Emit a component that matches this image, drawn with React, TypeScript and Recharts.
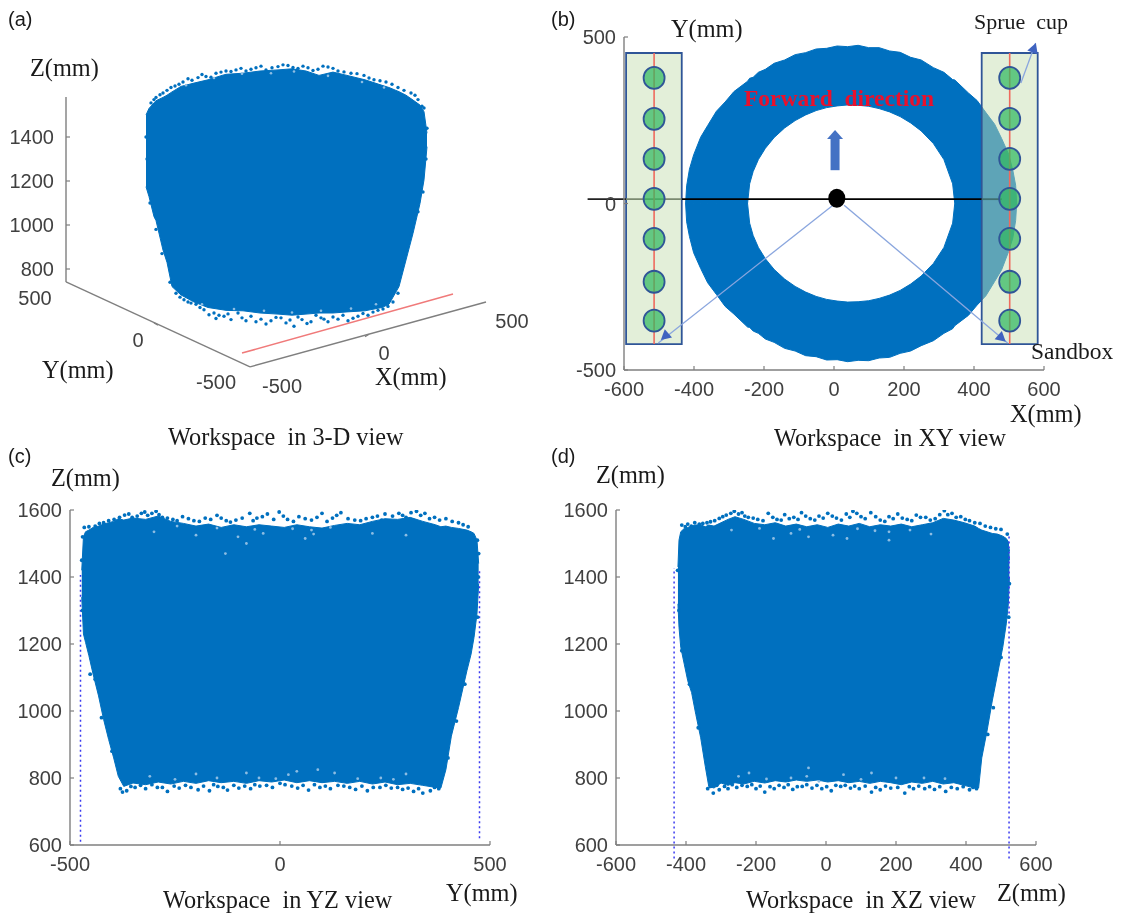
import React from "react";
import { ComposedChart, Area, Scatter, XAxis, YAxis, ReferenceLine, ReferenceArea } from "recharts";

const BLUE = "#0070BF";
const GREY = "#7f7f7f";
const TICK = "#404040";

// ---------- panel (a): projected view, u = horizontal view coordinate, z = height ----------
const cloudA_u = [80, 83, 88, 90, 97, 101, 106, 115, 128, 142, 156, 160, 177, 194, 212, 226, 240, 253, 267, 281, 299, 316, 323, 333, 340, 347, 354, 358, 361];
const cloudA_low = [1174, 1129, 1038, 1020, 886, 830, 720, 682, 650, 625, 615, 612, 610, 600, 595, 590, 595, 600, 600, 605, 610, 625, 640, 720, 841, 962, 1098, 1205, 1356];
const cloudA_high = [1500, 1530, 1555, 1565, 1580, 1590, 1605, 1630, 1645, 1660, 1680, 1685, 1690, 1700, 1705, 1710, 1700, 1680, 1695, 1680, 1660, 1635, 1625, 1606, 1590, 1568, 1545, 1515, 1417];
const dotsA: number[][] = [[85,1555],[90,1580],[97,1600],[105,1625],[113,1640],[122,1665],[132,1670],[140,1675],[150,1690],[160,1700],[170,1705],[180,1700],[190,1715],[200,1705],[212,1720],[222,1725],[232,1712],[242,1715],[252,1708],[262,1718],[272,1700],[285,1690],[298,1680],[308,1660],[320,1650],[332,1625],[345,1600],[352,1570],[356,1540],
  [88,1570],[94,1592],[101,1612],[109,1632],[117,1650],[126,1658],[136,1684],[145,1672],[155,1695],[165,1698],[175,1712],[185,1708],[195,1722],[206,1715],[217,1728],[227,1716],[237,1722],[247,1702],[257,1722],[267,1712],[278,1696],[291,1688],[303,1668],[314,1656],[326,1640],[338,1612],[349,1590],[358,1532],
  [110,690],[118,660],[125,645],[130,640],[138,615],[148,600],[150,575],[158,585],[165,570],[172,600],[180,565],[190,560],[200,550],[210,580],[220,555],[228,540],[236,570],[245,560],[255,578],[262,560],[272,572],[282,565],[292,585],[302,590],[312,612],[322,630],
  [114,672],[122,650],[134,625],[143,592],[153,590],[162,596],[176,578],[185,585],[195,572],[205,565],[215,578],[224,568],[232,582],[241,552],[250,590],[258,572],[267,582],[277,590],[287,576],[297,598],[307,604],[317,618],[327,650],[332,690],
  [81,1300],[80,1400],[84,1100],[90,980],[96,870],[104,740],[360,1300],[357,1150],[352,1060],[345,960],[338,850],[361,1440]];
const specksA: number[][] = [[120,1635],[148,1668],[176,1688],[205,1690],[228,1698],[262,1678],[296,1650],[318,1625],[136,640],[168,618],[198,610],[226,602],[255,610],[285,620],[310,640]];
const zTicksA = [800, 1000, 1200, 1400];

// ---------- panel (b): ring of reachable points ----------
const ringX = [-424, -421, -413, -401, -381, -361, -336, -311, -286, -247, -241, -231, -216, -196, -171, -141, -111, -81, -51, -21, 9, 39, 69, 99, 129, 159, 189, 219, 249, 284, 314, 339, 345, 384, 409, 434, 459, 479, 499, 511, 519, 522];
const ringOuterTop = [0, 53, 103, 146, 199, 234, 277, 305, 336, 367, 376, 379, 394, 403, 421, 431, 447, 453, 464, 466, 473, 471, 475, 468, 468, 458, 454, 439, 431, 408, 394, 372, 371, 332, 309, 273, 238, 195, 148, 99, 55, 0];
const ringOuterBottom = [0, 55, 99, 148, 195, 238, 273, 309, 332, 371, 372, 383, 390, 407, 417, 435, 443, 457, 460, 470, 469, 475, 471, 472, 464, 462, 450, 443, 427, 412, 390, 376, 367, 336, 305, 277, 234, 199, 144, 103, 51, 0];
const ringInner = [0, 0, 0, 0, 0, 0, 0, 0, 0, 0, 59, 96, 132, 166, 198, 227, 249, 266, 279, 288, 293, 296, 295, 292, 285, 275, 261, 242, 218, 180, 132, 59, 0, 0, 0, 0, 0, 0, 0, 0, 0, 0];
const sandboxLeftX = [-594, -435];
const sandboxRightX = [422, 582];
const sandboxY = [-422, 452];
const holeY = [377, 254, 134, 14, -106, -235, -352];
const holeLeftX = -514;
const holeRightX = 502;
const xTicksB = [-600, -400, -200, 0, 200, 400, 600];
const yTicksB = [-500, 0, 500];

// ---------- panel (c) ----------
const cloudC_x = [-472, -468, -463, -455, -445, -432, -420, -408, -396, -385, -372, -350, -320, -290, -260, -230, -200, -170, -140, -110, -80, -50, -20, 10, 40, 70, 100, 130, 160, 190, 220, 250, 280, 310, 340, 370, 383, 395, 408, 425, 445, 455, 462, 469, 473];
const cloudC_low = [1340, 1230, 1205, 1165, 1110, 1045, 975, 915, 860, 805, 775, 785, 780, 788, 782, 790, 784, 792, 786, 790, 784, 792, 788, 794, 786, 792, 786, 790, 784, 790, 782, 788, 780, 784, 778, 772, 770, 825, 925, 1010, 1120, 1170, 1220, 1290, 1380];
const cloudC_high = [1420, 1520, 1535, 1540, 1548, 1552, 1558, 1562, 1566, 1574, 1570, 1576, 1572, 1582, 1566, 1560, 1552, 1558, 1548, 1556, 1550, 1556, 1552, 1548, 1556, 1550, 1546, 1554, 1560, 1556, 1566, 1574, 1572, 1578, 1566, 1556, 1550, 1552, 1548, 1545, 1540, 1535, 1530, 1510, 1440];
const dotsC: number[][] = [[-466,1548],[-470,1520],[-440,1552],[-420,1562],[-395,1572],[-370,1585],[-352,1578],[-330,1590],[-315,1584],[-295,1596],[-280,1578],[-255,1572],[-232,1580],[-205,1568],[-178,1576],[-150,1584],[-128,1568],[-105,1570],[-72,1590],[-55,1576],[-30,1588],[-2,1594],[18,1572],[45,1580],[75,1570],[100,1590],[125,1576],[145,1592],[178,1570],[205,1574],[232,1582],[250,1588],[283,1590],[300,1578],[325,1596],[345,1590],[368,1578],[395,1574],[425,1562],[448,1550],[470,1510],[473,1470],
  [-455,1550],[-430,1560],[-408,1568],[-382,1578],[-360,1588],[-340,1582],[-322,1594],[-305,1590],[-288,1586],[-268,1576],[-245,1568],[-218,1574],[-192,1566],[-165,1572],[-140,1576],[-118,1564],[-90,1576],[-64,1568],[-42,1580],[-15,1572],[8,1582],[32,1566],[60,1574],[88,1578],[112,1566],[135,1584],[162,1574],[192,1568],[220,1578],[242,1570],[268,1582],[292,1584],[312,1592],[335,1584],[356,1574],[380,1570],[410,1566],[436,1556],
  [-380,768],[-375,758],[-365,762],[-345,772],[-320,768],[-292,772],[-268,760],[-240,770],[-225,778],[-195,765],[-168,762],[-148,775],[-125,764],[-98,770],[-70,768],[-48,776],[-18,772],[12,780],[42,770],[68,764],[95,772],[120,768],[152,776],[180,766],[208,762],[238,772],[265,770],[292,766],[318,760],[340,755],[358,762],[378,768],
  [-355,775],[-332,778],[-305,780],[-280,772],[-252,776],[-212,772],[-182,776],[-158,780],[-135,772],[-110,778],[-84,776],[-60,780],[-32,778],[0,784],[28,776],[55,778],[82,780],[108,776],[138,778],[166,772],[195,776],[222,772],[252,778],[280,772],[305,770],[330,768],[368,772],
  [-472,1450],[-470,1300],[-452,1110],[-440,1095],[-425,980],[-400,880],[472,1400],[470,1280],[440,1080],[420,970],[400,860]];
const specksC: number[][] = [[-100,1520],[-80,1500],[-130,1470],[-300,1535],[-40,1530],[80,1528],[60,1515],[220,1530],[300,1525],[-200,1525],[-245,1552],[-150,1546],[-60,1542],[30,1544],[75,1540],[120,1548],[-80,815],[20,810],[40,820],[-200,812],[130,815],[240,800],[300,812],[-310,805],[90,825],[-50,800],[-250,796],[-150,800],[-10,798],[185,798],[270,796]];
const xTicksC = [-500, 0, 500];
const zTicks = [600, 800, 1000, 1200, 1400, 1600];
const limitC = { leftX: -475, rightX: 475, leftTop: 1406, leftBottom: 610, rightTop: 1421, rightBottom: 620 };

// ---------- panel (d) ----------
const cloudD_x = [-423, -420, -415, -405, -395, -384, -372, -358, -345, -335, -320, -300, -280, -260, -235, -205, -175, -145, -115, -85, -55, -25, 5, 35, 65, 95, 125, 155, 185, 215, 245, 275, 305, 335, 365, 395, 425, 436, 445, 460, 475, 490, 505, 515, 521, 524];
const cloudD_low = [1320, 1250, 1190, 1140, 1090, 1055, 990, 920, 835, 775, 770, 785, 778, 786, 782, 790, 785, 792, 788, 794, 790, 794, 788, 792, 786, 790, 784, 790, 786, 780, 788, 784, 790, 782, 786, 778, 770, 770, 860, 940, 1030, 1110, 1190, 1260, 1320, 1400];
const cloudD_high = [1430, 1510, 1535, 1545, 1548, 1552, 1555, 1556, 1550, 1555, 1552, 1562, 1572, 1580, 1572, 1560, 1556, 1562, 1552, 1558, 1550, 1556, 1548, 1558, 1552, 1560, 1550, 1556, 1552, 1558, 1550, 1556, 1562, 1575, 1570, 1562, 1552, 1545, 1540, 1535, 1530, 1528, 1522, 1515, 1505, 1450];
const dotsD: number[][] = [[-412,1555],[-395,1558],[-375,1562],[-352,1560],[-330,1565],[-305,1575],[-285,1585],[-262,1596],[-240,1592],[-222,1578],[-195,1572],[-165,1590],[-140,1572],[-118,1586],[-92,1578],[-70,1592],[-45,1574],[-20,1582],[5,1590],[30,1576],[58,1588],[77,1596],[100,1580],[128,1592],[155,1570],[180,1580],[205,1588],[232,1572],[258,1585],[285,1578],[312,1574],[338,1598],[360,1590],[385,1580],[410,1568],[440,1560],[470,1548],[500,1542],[518,1528],
  [-402,1550],[-385,1552],[-362,1558],[-340,1562],[-318,1568],[-295,1580],[-272,1590],[-250,1588],[-232,1582],[-208,1576],[-180,1568],[-152,1578],[-128,1570],[-105,1574],[-80,1572],[-58,1582],[-32,1570],[-8,1576],[18,1582],[44,1570],[68,1578],[88,1590],[112,1574],[142,1580],[168,1566],[192,1574],[218,1576],[245,1568],[270,1578],[298,1570],[325,1586],[348,1586],[372,1578],[398,1572],[425,1562],[455,1552],[485,1544],
  [-338,768],[-322,755],[-305,765],[-280,768],[-255,772],[-225,775],[-200,768],[-175,758],[-148,768],[-120,772],[-95,766],[-68,775],[-40,770],[-12,768],[15,762],[42,775],[70,770],[95,768],[130,758],[155,765],[185,770],[225,755],[250,768],[282,768],[310,766],[342,760],[375,768],[410,765],[430,768],
  [-330,775],[-312,778],[-290,775],[-268,780],[-240,778],[-212,780],[-188,776],[-160,774],[-134,778],[-108,780],[-82,774],[-55,780],[-26,778],[2,774],[28,778],[55,778],[82,776],[112,776],[142,772],[170,776],[205,772],[238,774],[265,776],[296,774],[325,774],[358,772],[392,774],[420,772],
  [-424,1420],[-420,1300],[-412,1180],[-390,1080],[-365,950],[520,1480],[524,1380],[522,1280],[500,1160],[478,1010],[462,930]];
const specksD: number[][] = [[-50,1520],[-100,1530],[20,1525],[60,1515],[180,1535],[180,1510],[300,1528],[-270,1540],[-150,1515],[-190,1545],[-75,1542],[90,1544],[140,1538],[240,1540],[-250,805],[-220,815],[-50,830],[-55,805],[50,810],[130,815],[-100,800],[200,800],[280,800],[-20,790],[-170,797],[100,796],[340,798]];
const xTicksD = [-600, -400, -200, 0, 200, 400, 600];
const limitD = { leftX: -434, rightX: 523, leftTop: 1426, leftBottom: 560, rightTop: 1530, rightBottom: 560 };

const rows = (x: number[], low: number[], high: number[]) => x.map((v, i) => ({ x: v, band: [low[i], high[i]] }));
const pts = (p: number[][]) => p.map(([x, y]) => ({ x, y }));

const Dot = (fill: string, r: number) => (p: any) => <circle cx={p.cx} cy={p.cy} r={r} fill={fill} />;
const Ell = (rx: number, ry: number, fill: string, stroke = "none", sw = 0) => (p: any) => (
  <ellipse cx={p.cx} cy={p.cy} rx={rx} ry={ry} fill={fill} stroke={stroke} strokeWidth={sw} />
);
const Head = (angle: number, len: number, half: number, fill: string) => (p: any) => (
  <polygon points={`0,${-len} ${half},0 ${-half},0`} transform={`translate(${p.cx},${p.cy}) rotate(${angle}) translate(0,${len / 2})`} fill={fill} />
);

const tickStyle = { fontFamily: "'Liberation Sans', Arial, sans-serif", fontSize: 20, fill: TICK };
const axisLine = { stroke: GREY, strokeWidth: 1.4 };
const tickLine = { stroke: GREY, strokeWidth: 1.2 };
const Y_W = 60;
const X_H = 30;
const X_TICK_GAP = 16;

type Box = { left: number; top: number; width: number; height: number };
const Panel = ({ box, plot, xH = X_H, children }: { box: Box; plot: { l: number; r: number; t: number; b: number }; xH?: number; children: any }) => (
  <div style={{ position: "absolute", left: box.left, top: box.top, width: box.width, height: box.height }}>
    <ComposedChart
      width={box.width}
      height={box.height}
      margin={{ left: plot.l - box.left - Y_W, right: box.left + box.width - plot.r, top: plot.t - box.top, bottom: box.top + box.height - plot.b - xH }}
    >
      {children}
    </ComposedChart>
  </div>
);

const seg = (x1: number, y1: number, x2: number, y2: number) => [{ x: x1, y: y1 }, { x: x2, y: y2 }] as any;

const Label = ({ x, cy, size = 24.3, serif = true, color = "#1a1a1a", bold = false, center = false, children }: any) => (
  <div style={{ position: "absolute", left: x, top: cy, transform: center ? "translate(-50%,-50%)" : "translateY(-50%)", fontFamily: serif ? "'Liberation Serif', serif" : "'Liberation Sans', sans-serif", fontSize: size, color, fontWeight: bold ? 700 : 400, whiteSpace: "pre", lineHeight: 1 }}>
    {children}
  </div>
);

const CloudView = ({ box, plot, xTicks, xDomain, x, low, high, dots, specks, limit }: any) => (
  <Panel box={box} plot={plot}>
    <XAxis type="number" dataKey="x" domain={xDomain} ticks={xTicks} allowDataOverflow interval={0} height={X_H} tick={tickStyle} axisLine={axisLine} tickLine={tickLine} tickSize={-4} tickMargin={X_TICK_GAP} />
    <YAxis type="number" dataKey="y" domain={[600, 1600]} ticks={zTicks} allowDataOverflow interval={0} width={Y_W} tick={tickStyle} axisLine={axisLine} tickLine={tickLine} tickSize={-4} tickMargin={12} />
    <Area data={rows(x, low, high)} dataKey="band" type="linear" fill={BLUE} fillOpacity={1} stroke={BLUE} strokeWidth={1} dot={false} activeDot={false} isAnimationActive={false} />
    <Scatter data={pts(dots)} shape={Dot(BLUE, 1.9)} isAnimationActive={false} />
    <Scatter data={pts(specks)} shape={Dot("#8dbde3", 1.4)} isAnimationActive={false} />
    <ReferenceLine segment={seg(limit.leftX, limit.leftBottom, limit.leftX, limit.leftTop)} ifOverflow="visible" stroke="#3a3af0" strokeWidth={1.5} strokeDasharray="2 3" />
    <ReferenceLine segment={seg(limit.rightX, limit.rightBottom, limit.rightX, limit.rightTop)} ifOverflow="visible" stroke="#3a3af0" strokeWidth={1.5} strokeDasharray="2 3" />
  </Panel>
);

const HOLE_FILL = "rgba(50,185,95,0.72)";
const HOLE_STROKE = "#2f5597";
const BOX_STROKE = "#2f5597";
const LINK = "#8aa6de";
const HEAD = "#3f63c0";

export default function App() {
  const ringTop = ringX.map((x, i) => ({ x, band: [ringInner[i], ringOuterTop[i]] }));
  const ringBottom = ringX.map((x, i) => ({ x, band: [-ringOuterBottom[i], -ringInner[i]] }));
  const sandbox = (xs: number[]) => xs.map((x) => ({ x, band: sandboxY }));
  return (
    <div style={{ position: "absolute", left: 0, top: 0, width: 1124, height: 913, background: "#fff", overflow: "hidden", filter: "blur(0.45px)" }}>
      {/* (a) */}
      <Panel box={{ left: 0, top: 0, width: 545, height: 440 }} plot={{ l: 66, r: 486, t: 49, b: 379 }} xH={0}>
        <XAxis type="number" dataKey="x" domain={[0, 420]} hide allowDataOverflow />
        <YAxis type="number" dataKey="y" domain={[300, 1800]} ticks={zTicksA} interval={0} allowDataOverflow width={Y_W} axisLine={false} tick={tickStyle} tickLine={tickLine} tickSize={-4} tickMargin={16} />
        <ReferenceLine segment={seg(0, 741, 0, 1582)} stroke={GREY} strokeWidth={1.4} />
        <ReferenceLine segment={seg(0, 741, 184, 355)} stroke={GREY} strokeWidth={1.4} />
        <ReferenceLine segment={seg(184, 355, 420, 650)} stroke={GREY} strokeWidth={1.4} />
        <ReferenceLine segment={seg(88, 555, 92, 545)} stroke={GREY} strokeWidth={1.2} />
        <ReferenceLine segment={seg(303, 503, 299, 492)} stroke={GREY} strokeWidth={1.2} />
        <ReferenceLine segment={seg(176, 418, 387, 686)} stroke="#f07a7a" strokeWidth={1.6} />
        <Area data={rows(cloudA_u, cloudA_low, cloudA_high)} dataKey="band" type="linear" fill={BLUE} fillOpacity={1} stroke={BLUE} strokeWidth={1} dot={false} activeDot={false} isAnimationActive={false} />
        <Scatter data={pts(dotsA)} shape={Dot(BLUE, 1.7)} isAnimationActive={false} />
        <Scatter data={pts(specksA)} shape={Dot("#8dbde3", 1.3)} isAnimationActive={false} />
      </Panel>

      {/* (b) */}
      <Panel box={{ left: 545, top: 0, width: 579, height: 440 }} plot={{ l: 624, r: 1044, t: 37, b: 370 }}>
        <XAxis type="number" dataKey="x" domain={[-600, 600]} ticks={xTicksB} interval={0} allowDataOverflow height={X_H} tick={tickStyle} axisLine={axisLine} tickLine={tickLine} tickSize={-4} tickMargin={X_TICK_GAP} />
        <YAxis type="number" dataKey="y" domain={[-500, 500]} ticks={yTicksB} interval={0} allowDataOverflow width={Y_W} tick={tickStyle} axisLine={axisLine} tickLine={tickLine} tickSize={-4} tickMargin={12} />
        <Area data={ringTop} dataKey="band" type="linear" fill={BLUE} fillOpacity={1} stroke={BLUE} strokeWidth={1} dot={false} activeDot={false} isAnimationActive={false} />
        <Area data={ringBottom} dataKey="band" type="linear" fill={BLUE} fillOpacity={1} stroke={BLUE} strokeWidth={1} dot={false} activeDot={false} isAnimationActive={false} />
        <Area data={sandbox(sandboxLeftX)} dataKey="band" type="linear" fill="rgb(196,221,175)" fillOpacity={0.48} stroke="none" dot={false} activeDot={false} isAnimationActive={false} />
        <Area data={sandbox(sandboxRightX)} dataKey="band" type="linear" fill="rgb(196,221,175)" fillOpacity={0.48} stroke="none" dot={false} activeDot={false} isAnimationActive={false} />
        <ReferenceArea x1={sandboxLeftX[0]} x2={sandboxLeftX[1]} y1={sandboxY[0]} y2={sandboxY[1]} fill="none" stroke={BOX_STROKE} strokeWidth={1.8} />
        <ReferenceArea x1={sandboxRightX[0]} x2={sandboxRightX[1]} y1={sandboxY[0]} y2={sandboxY[1]} fill="none" stroke={BOX_STROKE} strokeWidth={1.8} />
        <ReferenceLine segment={seg(-704, 13, -594, 13)} ifOverflow="visible" stroke="#222" strokeWidth={1.8} />
        <ReferenceLine segment={seg(-594, 13, -435, 13)} stroke="#7b8a70" strokeWidth={1.8} />
        <ReferenceLine segment={seg(-435, 13, 422, 13)} stroke="#000" strokeWidth={1.8} />
        <ReferenceLine segment={seg(422, 13, 480, 13)} stroke="#3e6f70" strokeWidth={1.8} />
        <ReferenceLine segment={seg(holeLeftX, sandboxY[0], holeLeftX, sandboxY[1])} stroke="#ef6a5e" strokeWidth={1.6} />
        <ReferenceLine segment={seg(holeRightX, sandboxY[0], holeRightX, sandboxY[1])} stroke="#ef6a5e" strokeWidth={1.6} />
        <ReferenceLine segment={seg(-3, -5, -502, -419)} stroke={LINK} strokeWidth={1.3} />
        <ReferenceLine segment={seg(29, -5, 496, -419)} stroke={LINK} strokeWidth={1.3} />
        <ReferenceLine segment={seg(534, 362, 576, 482)} stroke={LINK} strokeWidth={1.3} />
        <ReferenceLine segment={seg(3, 100, 3, 195)} stroke="#4472c4" strokeWidth={9} />
        <Scatter data={holeY.map((y) => ({ x: holeLeftX, y }))} shape={Ell(10.5, 11, HOLE_FILL, HOLE_STROKE, 1.8)} isAnimationActive={false} />
        <Scatter data={holeY.map((y) => ({ x: holeRightX, y }))} shape={Ell(10.5, 11, HOLE_FILL, HOLE_STROKE, 1.8)} isAnimationActive={false} />
        <Scatter data={[{ x: 8, y: 16 }]} shape={Ell(8.5, 9.5, "#000")} isAnimationActive={false} />
        <Scatter data={[{ x: 3, y: 207 }]} shape={Head(0, 9, 8, "#4472c4")} isAnimationActive={false} />
        <Scatter data={[{ x: -484, y: -400 }]} shape={Head(-131, 10, 5.5, HEAD)} isAnimationActive={false} />
        <Scatter data={[{ x: 480, y: -405 }]} shape={Head(131, 10, 5.5, HEAD)} isAnimationActive={false} />
        <Scatter data={[{ x: 572, y: 468 }]} shape={Head(20, 10, 5.5, HEAD)} isAnimationActive={false} />
      </Panel>

      {/* (c) */}
      <CloudView box={{ left: 0, top: 440, width: 545, height: 473 }} plot={{ l: 70, r: 490, t: 510, b: 845 }} xDomain={[-500, 500]} xTicks={xTicksC} x={cloudC_x} low={cloudC_low} high={cloudC_high} dots={dotsC} specks={specksC} limit={limitC} />
      {/* (d) */}
      <CloudView box={{ left: 545, top: 440, width: 579, height: 473 }} plot={{ l: 616, r: 1036, t: 510, b: 845 }} xDomain={[-600, 600]} xTicks={xTicksD} x={cloudD_x} low={cloudD_low} high={cloudD_high} dots={dotsD} specks={specksD} limit={limitD} />

      {/* text */}
      <Label x={8} cy={19} serif={false} size={20}>(a)</Label>
      <Label x={30} cy={68}>Z(mm)</Label>
      <Label x={42} cy={370}>Y(mm)</Label>
      <Label x={375} cy={377}>X(mm)</Label>
      <Label x={168} cy={437}>{"Workspace  in 3-D view"}</Label>
      <Label x={35} cy={298} serif={false} size={20} color={TICK} center>500</Label>
      <Label x={138} cy={340} serif={false} size={20} color={TICK} center>0</Label>
      <Label x={216} cy={382} serif={false} size={20} color={TICK} center>-500</Label>
      <Label x={282} cy={386} serif={false} size={20} color={TICK} center>-500</Label>
      <Label x={384} cy={353} serif={false} size={20} color={TICK} center>0</Label>
      <Label x={512} cy={321} serif={false} size={20} color={TICK} center>500</Label>

      <Label x={551} cy={19} serif={false} size={20}>(b)</Label>
      <Label x={671} cy={29}>Y(mm)</Label>
      <Label x={974} cy={22} size={22}>{"Sprue  cup"}</Label>
      <Label x={1031} cy={352} size={23.5}>Sandbox</Label>
      <Label x={1010} cy={414}>X(mm)</Label>
      <Label x={774} cy={438}>{"Workspace  in XY view"}</Label>
      <Label x={744} cy={99} size={23.5} color="#e8112d" bold>{"Forward  direction"}</Label>

      <Label x={8} cy={456} serif={false} size={20}>(c)</Label>
      <Label x={51} cy={478}>Z(mm)</Label>
      <Label x={163} cy={900}>{"Workspace  in YZ view"}</Label>
      <Label x={446} cy={893}>Y(mm)</Label>

      <Label x={551} cy={456} serif={false} size={20}>(d)</Label>
      <Label x={596} cy={475}>Z(mm)</Label>
      <Label x={746} cy={900}>{"Workspace  in XZ view"}</Label>
      <Label x={997} cy={893}>Z(mm)</Label>
    </div>
  );
}
